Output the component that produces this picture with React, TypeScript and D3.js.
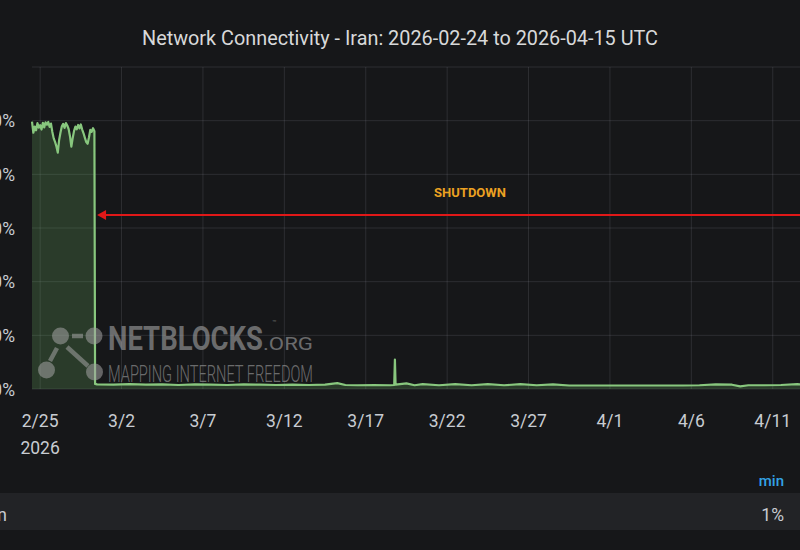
import React from 'react';
import * as d3 from 'd3';

const TITLE = 'Network Connectivity - Iran: 2026-02-24 to 2026-04-15 UTC';
const ANNOTATION = 'SHUTDOWN';
const SERIES_NAME = 'Iran';
const LEGEND_STAT = 'min';
const LEGEND_VALUE = '1%';

const yTickValues = [0, 20, 40, 60, 80, 100];
const yGridValues = [0, 20, 40, 60, 80, 100, 120];
const xTickDates = ['2026-02-25', '2026-03-02', '2026-03-07', '2026-03-12', '2026-03-17', '2026-03-22', '2026-03-27', '2026-04-01', '2026-04-06', '2026-04-11'];
const domainStart = '2026-02-24T12:00:00Z';
const domainEnd = '2026-04-15T12:00:00Z';
const shutdownAt = '2026-02-28T09:00:00Z';

// Connectivity before the shutdown (% of ordinary levels)
const preShutdown: [string, number][] = [
  ['2026-02-24T12:00:00Z', 99.6], ['2026-02-24T14:00:00Z', 95.5], ['2026-02-24T16:00:00Z', 97.8], ['2026-02-24T18:00:00Z', 96.4],
  ['2026-02-24T20:00:00Z', 99.1], ['2026-02-24T22:00:00Z', 97.4], ['2026-02-25T00:00:00Z', 98.3], ['2026-02-25T02:00:00Z', 96.7],
  ['2026-02-25T04:00:00Z', 99.2], ['2026-02-25T06:00:00Z', 97.5], ['2026-02-25T08:00:00Z', 99.4], ['2026-02-25T10:00:00Z', 98.5],
  ['2026-02-25T12:00:00Z', 99.5], ['2026-02-25T14:00:00Z', 97.7], ['2026-02-25T16:00:00Z', 98.9], ['2026-02-25T18:00:00Z', 95.8],
  ['2026-02-25T20:00:00Z', 93.4], ['2026-02-25T22:00:00Z', 92.1], ['2026-02-26T00:00:00Z', 90.4], ['2026-02-26T02:00:00Z', 88.1],
  ['2026-02-26T04:00:00Z', 92.8], ['2026-02-26T06:00:00Z', 95.6], ['2026-02-26T08:00:00Z', 97.9], ['2026-02-26T10:00:00Z', 98.8],
  ['2026-02-26T12:00:00Z', 97.3], ['2026-02-26T14:00:00Z', 99.1], ['2026-02-26T16:00:00Z', 98.2], ['2026-02-26T18:00:00Z', 96.9],
  ['2026-02-26T20:00:00Z', 94.2], ['2026-02-26T22:00:00Z', 90.3], ['2026-02-27T00:00:00Z', 93.5], ['2026-02-27T02:00:00Z', 96.2],
  ['2026-02-27T04:00:00Z', 97.8], ['2026-02-27T06:00:00Z', 96.8], ['2026-02-27T08:00:00Z', 98.4], ['2026-02-27T10:00:00Z', 97.1],
  ['2026-02-27T12:00:00Z', 98.6], ['2026-02-27T14:00:00Z', 96.7], ['2026-02-27T16:00:00Z', 95.3], ['2026-02-27T18:00:00Z', 93.6],
  ['2026-02-27T20:00:00Z', 92.0], ['2026-02-27T22:00:00Z', 91.4], ['2026-02-28T00:00:00Z', 93.8], ['2026-02-28T02:00:00Z', 96.6],
  ['2026-02-28T04:00:00Z', 95.8], ['2026-02-28T06:00:00Z', 97.2], ['2026-02-28T08:00:00Z', 96.1],
];

// Connectivity during the shutdown
const duringShutdown: [string, number][] = [
  ['2026-02-28T09:00:00Z', 1.9], ['2026-02-28T12:00:00Z', 1.7], ['2026-03-01T12:00:00Z', 1.6], ['2026-03-02T12:00:00Z', 1.8],
  ['2026-03-03T12:00:00Z', 1.6], ['2026-03-04T12:00:00Z', 1.7], ['2026-03-05T12:00:00Z', 1.5], ['2026-03-06T12:00:00Z', 1.7],
  ['2026-03-07T12:00:00Z', 1.6], ['2026-03-08T12:00:00Z', 1.5], ['2026-03-09T12:00:00Z', 1.7], ['2026-03-10T12:00:00Z', 1.6],
  ['2026-03-11T12:00:00Z', 1.5], ['2026-03-12T12:00:00Z', 1.6], ['2026-03-13T12:00:00Z', 1.5], ['2026-03-14T12:00:00Z', 1.6],
  ['2026-03-15T06:00:00Z', 2.2], ['2026-03-15T18:00:00Z', 1.5], ['2026-03-16T12:00:00Z', 1.4], ['2026-03-17T12:00:00Z', 1.5],
  ['2026-03-18T12:00:00Z', 1.4], ['2026-03-18T18:00:00Z', 1.5], ['2026-03-18T19:00:00Z', 11.0], ['2026-03-18T20:00:00Z', 1.6],
  ['2026-03-19T12:00:00Z', 2.1], ['2026-03-20T00:00:00Z', 1.4], ['2026-03-20T12:00:00Z', 1.8], ['2026-03-21T12:00:00Z', 1.4],
  ['2026-03-22T12:00:00Z', 1.8], ['2026-03-23T12:00:00Z', 1.4], ['2026-03-24T12:00:00Z', 1.8], ['2026-03-25T12:00:00Z', 1.4],
  ['2026-03-26T12:00:00Z', 1.8], ['2026-03-27T12:00:00Z', 1.4], ['2026-03-28T12:00:00Z', 1.7], ['2026-03-29T12:00:00Z', 1.3],
  ['2026-03-30T12:00:00Z', 1.3], ['2026-03-31T12:00:00Z', 1.3], ['2026-04-01T12:00:00Z', 1.3], ['2026-04-02T12:00:00Z', 1.3],
  ['2026-04-03T12:00:00Z', 1.3], ['2026-04-04T12:00:00Z', 1.3], ['2026-04-05T12:00:00Z', 1.3], ['2026-04-06T12:00:00Z', 1.4],
  ['2026-04-07T12:00:00Z', 1.7], ['2026-04-08T12:00:00Z', 1.6], ['2026-04-09T00:00:00Z', 1.0], ['2026-04-09T12:00:00Z', 1.4],
  ['2026-04-10T12:00:00Z', 1.4], ['2026-04-11T12:00:00Z', 1.5], ['2026-04-12T12:00:00Z', 1.8], ['2026-04-13T12:00:00Z', 1.5],
  ['2026-04-14T12:00:00Z', 1.9], ['2026-04-15T12:00:00Z', 1.6],
];

const W = 800;
const H = 550;
const BG = '#161719';
const TEXT = '#c8ccd2';
const GRID = 'rgba(204,204,220,0.13)';
const LINE = '#88c77e';

export default function App() {
  const plotLeft = 32;
  const plotTop = 67;
  const plotBottom = 389;
  const pxPerDay = 16.28;

  const t0 = new Date(domainStart);
  const t1 = new Date(domainEnd);
  const days = (t1.getTime() - t0.getTime()) / 86400000;
  const x = d3.scaleUtc().domain([t0, t1]).range([plotLeft, plotLeft + days * pxPerDay]);
  const y = d3.scaleLinear().domain([0, 120]).range([plotBottom, plotTop]);

  const data = [...preShutdown, ...duringShutdown].map(([d, v]) => ({ t: new Date(d), v }));

  const line = d3.line<{ t: Date; v: number }>().x((d) => x(d.t)).y((d) => y(d.v));
  const area = d3
    .area<{ t: Date; v: number }>()
    .x((d) => x(d.t))
    .y0(y(0))
    .y1((d) => y(d.v));

  const fmt = d3.utcFormat('%-m/%-d');
  const arrowX = x(new Date(shutdownAt)) + 2;
  const arrowY = 215;
  const font = 'Roboto, "Noto Sans", sans-serif';

  return (
    <svg
      width={W}
      height={H}
      style={{ position: 'fixed', left: 0, top: 0, background: BG, display: 'block' }}
      fontFamily={font}
    >
      <rect x={0} y={0} width={W} height={H} fill={BG} />

      <text x={400} y={45} textAnchor="middle" fontSize={19.5} fill="#d8d9da" textLength={516} lengthAdjust="spacingAndGlyphs">
        {TITLE}
      </text>

      {/* grid */}
      {yGridValues.map((v) => (
        <line key={'gy' + v} x1={plotLeft} x2={W} y1={y(v)} y2={y(v)} stroke={GRID} strokeWidth={1} />
      ))}
      {xTickDates.map((d) => {
        const xx = x(new Date(d + 'T00:00:00Z'));
        return <line key={'gx' + d} x1={xx} x2={xx} y1={plotTop} y2={plotBottom} stroke={GRID} strokeWidth={1} />;
      })}

      {/* y labels */}
      {yTickValues.map((v) => (
        <text key={'yl' + v} x={15} y={y(v) + 6.5} textAnchor="end" fontSize={17.5} fill={TEXT}>
          {v + '%'}
        </text>
      ))}

      {/* x labels */}
      {xTickDates.map((d, i) => {
        const dt = new Date(d + 'T00:00:00Z');
        const xx = x(dt);
        return (
          <g key={'xl' + d}>
            <text x={xx} y={426.5} textAnchor="middle" fontSize={17.5} fill={TEXT}>
              {fmt(dt)}
            </text>
            {i === 0 && (
              <text x={xx} y={454} textAnchor="middle" fontSize={17.5} fill={TEXT}>
                {d3.utcFormat('%Y')(dt)}
              </text>
            )}
          </g>
        );
      })}

      {/* series */}
      <path d={area(data) || ''} fill="rgba(115,191,105,0.22)" />
      <path d={line(data) || ''} fill="none" stroke={LINE} strokeWidth={2.2} strokeLinejoin="round" />

      {/* annotation */}
      <line x1={arrowX + 8} x2={W + 10} y1={arrowY} y2={arrowY} stroke="#e01818" strokeWidth={2.2} />
      <polygon
        points={`${arrowX},${arrowY} ${arrowX + 9},${arrowY - 5} ${arrowX + 9},${arrowY + 5}`}
        fill="#e01818"
      />
      <text x={470} y={197} textAnchor="middle" fontSize={13} fontWeight="bold" fill="#eba122">
        {ANNOTATION}
      </text>

      {/* watermark */}
      <g opacity={0.55}>
        <g fill="#a4a4a4" stroke="none">
          <circle cx={60.5} cy={336} r={8.5} />
          <circle cx={94} cy={336} r={8.5} />
          <circle cx={46.5} cy={370} r={8.5} />
          <circle cx={94.5} cy={372} r={8.5} />
        </g>
        <g stroke="#a4a4a4" strokeWidth={4.5} strokeLinecap="butt">
          <line x1={72} x2={83} y1={336} y2={336} />
          <line x1={57} x2={50} y1={348} y2={361} />
          <line x1={67} x2={88} y1={347} y2={366} />
        </g>
        <text
          x={108}
          y={350}
          fontSize={32.5}
          fontWeight="bold"
          fill="#b0b0b0"
          textLength={155}
          lengthAdjust="spacingAndGlyphs"
        >
          NETBLOCKS
        </text>
        <text x={263} y={350} fontSize={19} fill="#b0b0b0" textLength={50} lengthAdjust="spacingAndGlyphs">
          .ORG
        </text>
        <text x={272} y={325} fontSize={7} fill="#b0b0b0">
          ™
        </text>
        <text
          x={108}
          y={382}
          fontSize={24}
          fontWeight={300}
          fill="#b0b0b0"
          textLength={205}
          lengthAdjust="spacingAndGlyphs"
        >
          MAPPING INTERNET FREEDOM
        </text>
      </g>

      {/* legend */}
      <text x={784} y={486} textAnchor="end" fontSize={15} fontWeight={500} fill="#33a2e5">
        {LEGEND_STAT}
      </text>
      <rect x={0} y={493} width={W} height={37} fill="#222326" />
      <text x={7} y={521} textAnchor="end" fontSize={17.5} fill={TEXT}>
        {SERIES_NAME}
      </text>
      <text x={784} y={521} textAnchor="end" fontSize={17.5} fill={TEXT}>
        {LEGEND_VALUE}
      </text>
    </svg>
  );
}
